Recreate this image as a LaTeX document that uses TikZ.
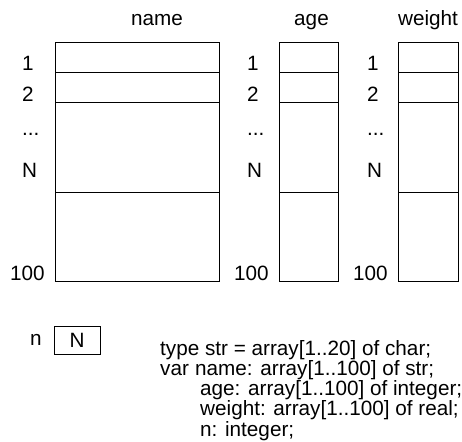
\documentclass[tikz,border=0pt]{standalone}
\usepackage{fontspec}
\setmainfont{Liberation Sans}
\begin{document}
\begin{tikzpicture}[x=1pt, y=-1pt,
  cell/.style={draw, line width=1pt, inner sep=0pt, anchor=north west},
  lbl/.style={inner sep=0pt, anchor=base west},
  head/.style={inner sep=0pt, anchor=base},
  every node/.style={font=\fontsize{20.7}{20.7}\selectfont}]
\useasboundingbox (0,0) rectangle (462,441);

% column headings
\node[head] (hname)   at (157,26)   {name};
\node[head] (hage)    at (311.5,26) {age};
\node[head] (hweight) at (428,26)   {weight};

% array "name": rows 1, 2, ..., N, rest up to 100
\node[cell, minimum width=164pt, minimum height=30pt] (n1)   at (55,42)  {};
\node[cell, minimum width=164pt, minimum height=30pt] (n2)   at (55,72)  {};
\node[cell, minimum width=164pt, minimum height=90pt] (nN)   at (55,102) {};
\node[cell, minimum width=164pt, minimum height=89pt] (n100) at (55,192) {};

% array "age"
\node[cell, minimum width=59pt, minimum height=30pt] (a1)   at (279,42)  {};
\node[cell, minimum width=59pt, minimum height=30pt] (a2)   at (279,72)  {};
\node[cell, minimum width=59pt, minimum height=90pt] (aN)   at (279,102) {};
\node[cell, minimum width=59pt, minimum height=89pt] (a100) at (279,192) {};

% array "weight"
\node[cell, minimum width=60pt, minimum height=30pt] (w1)   at (398,42)  {};
\node[cell, minimum width=60pt, minimum height=30pt] (w2)   at (398,72)  {};
\node[cell, minimum width=60pt, minimum height=90pt] (wN)   at (398,102) {};
\node[cell, minimum width=60pt, minimum height=89pt] (w100) at (398,192) {};

% index labels
\node[lbl] (ni1) at (22,71)  {1};
\node[lbl] (ni2) at (22,101) {2};
\node[lbl] (nid) at (22,135) {...};
\node[lbl] (niN) at (22,177) {N};
\node[lbl] (nih) at (10,280) {100};

\node[lbl] (ai1) at (247,71)  {1};
\node[lbl] (ai2) at (247,101) {2};
\node[lbl] (aid) at (247,135) {...};
\node[lbl] (aiN) at (247,177) {N};
\node[lbl] (aih) at (234,280) {100};

\node[lbl] (wi1) at (367,71)  {1};
\node[lbl] (wi2) at (367,101) {2};
\node[lbl] (wid) at (367,135) {...};
\node[lbl] (wiN) at (367,177) {N};
\node[lbl] (wih) at (353,280) {100};

% variable n
\node[lbl] (nlab) at (30,345) {n};
\node[cell, minimum width=46pt, minimum height=28pt] (nbox) at (54,326) {};
\node[head] (nval) at (77,347) {N};

% declarations
\node[lbl] (d1)  at (160,355)   {type str = array[1..20] of char;};
\node[lbl] (d2)  at (160,375)   {var};
\node[lbl] (d2b) at (195,375)   {name: array[1..100] of str;};
\node[lbl] (d3)  at (200,395)   {age: array[1..100] of integer;};
\node[lbl] (d4)  at (200,415.5) {weight: array[1..100] of real;};
\node[lbl] (d5)  at (200,436)   {n: integer;};
\end{tikzpicture}
\end{document}
